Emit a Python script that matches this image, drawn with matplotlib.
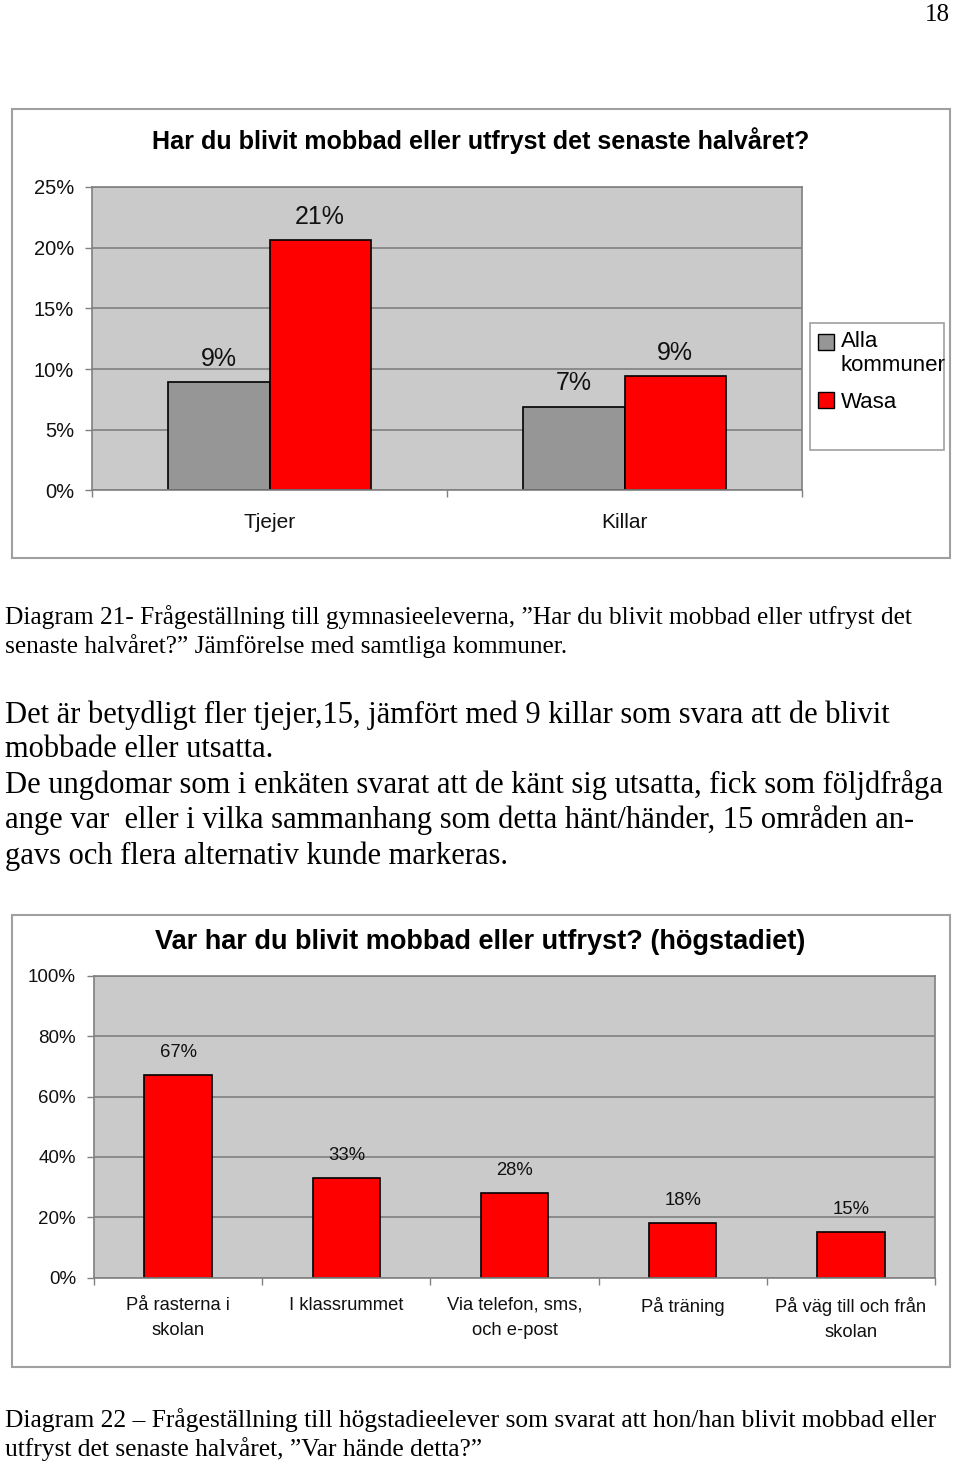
import matplotlib
matplotlib.use('Agg')
import matplotlib.pyplot as plt
from matplotlib.patches import Rectangle
from matplotlib.legend_handler import HandlerBase
from matplotlib.ticker import PercentFormatter, FixedLocator
import numpy as np

# Diagram 21 - gymnasiet, Wasa mot alla kommuner
grupper = ['Tjejer', 'Killar']
serier = ['Alla\nkommuner', 'Wasa']
alla_kommuner = [0.089, 0.069]
wasa = [0.206, 0.094]

# Diagram 22 - var har du blivit mobbad (högstadiet)
platser = ['På rasterna i\nskolan', 'I klassrummet', 'Via telefon, sms,\noch e-post',
           'På träning', 'På väg till och från\nskolan']
andel = [0.67, 0.33, 0.28, 0.18, 0.15]

titel1 = 'Har du blivit mobbad eller utfryst det senaste halvåret?'
titel2 = 'Var har du blivit mobbad eller utfryst? (högstadiet)'

bildtext1 = ['Diagram 21- Frågeställning till gymnasieeleverna, \u201dHar du blivit mobbad eller utfryst det',
             'senaste halvåret?\u201d Jämförelse med samtliga kommuner.']
stycke = ['Det är betydligt fler tjejer,15, jämfört med 9 killar som svara att de blivit',
          'mobbade eller utsatta.',
          'De ungdomar som i enkäten svarat att de känt sig utsatta, fick som följdfråga',
          'ange var  eller i vilka sammanhang som detta hänt/händer, 15 områden an-',
          'gavs och flera alternativ kunde markeras.']
bildtext2 = ['Diagram 22 \u2013 Frågeställning till högstadieelever som svarat att hon/han blivit mobbad eller',
             'utfryst det senaste halvåret, \u201dVar hände detta?\u201d']

W, H = 960, 1464
SANS = 'Liberation Sans'
SERIF = 'Liberation Serif'
GRAA = '#969696'
ROED = '#ff0000'

fig = plt.figure(figsize=(W / 100, H / 100), dpi=100)
renderer = fig.canvas.get_renderer()


def px(x0, y0, x1, y1):
    # pixelruta (uppifrån) -> figurkoordinater
    return [x0 / W, 1 - y1 / H, (x1 - x0) / W, (y1 - y0) / H]


def ram(x0, y0, x1, y1, lw=1.5):
    r = Rectangle((x0 / W, 1 - y1 / H), (x1 - x0) / W, (y1 - y0) / H,
                  transform=fig.transFigure, fill=False, ec='#a0a0a0', lw=lw)
    fig.patches.append(r)


def passa(rader, bredd, family, weight='normal'):
    # fontstorlek så att bredaste raden blir 'bredd' pixlar
    wmax = 0
    for rad in rader:
        t = fig.text(0, 0, rad, fontsize=16, family=family, fontweight=weight)
        wmax = max(wmax, t.get_window_extent(renderer).width)
        t.remove()
    return 16 * bredd / wmax


class Ruta(HandlerBase):
    # liten fyrkant i legenden, kan lyftas upp till första textraden
    def __init__(self, lyft=0):
        super().__init__()
        self.lyft = lyft

    def create_artists(self, legend, orig_handle, xdescent, ydescent, width, height,
                       fontsize, trans):
        s = min(width, height)
        fc = orig_handle.patches[0].get_facecolor()
        r = Rectangle((-xdescent, -ydescent + (height - s) / 2 + self.lyft), s, s,
                      facecolor=fc, edgecolor='black', lw=1, transform=trans)
        return [r]


def stil(ax, tickstorlek):
    ax.set_facecolor('#cacaca')
    for s in ax.spines.values():
        s.set_color('#808080')
        s.set_linewidth(1.2)
    ax.yaxis.grid(True, color='#808080', lw=1.2)
    ax.set_axisbelow(True)
    ax.yaxis.set_major_formatter(PercentFormatter(1.0, decimals=0))
    ax.tick_params(axis='y', length=5, width=1, color='#808080', pad=8,
                   labelsize=tickstorlek, labelcolor='#111111')
    ax.tick_params(axis='x', which='major', length=0, labelcolor='#111111')
    ax.tick_params(axis='x', which='minor', length=5, width=1, color='#808080')
    for t in ax.get_yticklabels() + ax.get_xticklabels():
        t.set_family(SANS)


# ---------- Diagram 21 ----------
ram(12, 109, 950, 558)
ax1 = fig.add_axes(px(92, 187, 802, 490.5))
x = np.arange(len(grupper))
bw = 0.285
b1 = ax1.bar(x - bw / 2, alla_kommuner, bw, color=GRAA, edgecolor='black', lw=1.2)
b2 = ax1.bar(x + bw / 2, wasa, bw, color=ROED, edgecolor='black', lw=1.2)
ax1.set_xlim(-0.5, len(grupper) - 0.5)
ax1.set_ylim(0, 0.25)
ax1.set_yticks(np.arange(0, 0.26, 0.05))
ax1.set_xticks(x)
ax1.set_xticklabels(grupper, fontsize=15, family=SANS)
ax1.xaxis.set_minor_locator(FixedLocator(np.arange(-0.5, len(grupper), 1.0)))
ax1.tick_params(axis='x', which='major', pad=16)
stil(ax1, 14.5)
for bars, vals in ((b1, alla_kommuner), (b2, wasa)):
    for b, v in zip(bars, vals):
        ax1.annotate(f'{round(v * 100):.0f}%', (b.get_x() + b.get_width() / 2, v),
                     xytext=(0, 17), textcoords='offset points', ha='center', va='center',
                     fontsize=18, family=SANS, color='#111111')
fig.text(481 / W, 1 - 141 / H, titel1, ha='center', va='center',
         fontsize=passa([titel1], 655, SANS, 'bold'), fontweight='bold', family=SANS)
# legend
ram(810, 323, 944, 450, lw=1.2)
fig.legend([b1, b2], serier, loc='upper left', bbox_to_anchor=(818 / W, 1 - 331 / H),
           bbox_transform=fig.transFigure, frameon=False, borderaxespad=0, borderpad=0,
           handlelength=0.72, handleheight=0.72, handletextpad=0.3, labelspacing=0.7,
           handler_map={b1: Ruta(lyft=8.8), b2: Ruta()},
           prop={'family': SANS, 'size': 16})

# ---------- Diagram 22 ----------
ram(12, 915, 950, 1367)
ax2 = fig.add_axes(px(94, 976, 935, 1277.5))
x2 = np.arange(len(platser))
b3 = ax2.bar(x2, andel, 0.4, color=ROED, edgecolor='black', lw=1.2)
ax2.set_xlim(-0.5, len(platser) - 0.5)
ax2.set_ylim(0, 1.0)
ax2.set_yticks(np.arange(0, 1.01, 0.2))
ax2.set_xticks(x2)
ax2.set_xticklabels(platser, fontsize=13.2, family=SANS, linespacing=1.6, va='top')
ax2.xaxis.set_minor_locator(FixedLocator(np.arange(-0.5, len(platser), 1.0)))
ax2.tick_params(axis='x', which='major', pad=14)
stil(ax2, 13.5)
for b, v in zip(b3, andel):
    ax2.annotate(f'{round(v * 100):.0f}%', (b.get_x() + b.get_width() / 2, v),
                 xytext=(0, 16.5), textcoords='offset points', ha='center', va='center',
                 fontsize=13.3, family=SANS, color='#111111')
fig.text(480 / W, 1 - 942 / H, titel2, ha='center', va='center',
         fontsize=passa([titel2], 650, SANS, 'bold'), fontweight='bold', family=SANS)


# ---------- löptext ----------
def text_block(rader, ys, bredd, x0=5):
    storlek = passa(rader, bredd, SERIF)
    for rad, y in zip(rader, ys):
        fig.text(x0 / W, 1 - y / H, rad, ha='left', va='center', fontsize=storlek,
                 family=SERIF, color='black')


text_block(bildtext1, [617, 646], 910)
text_block(stycke, [715, 749, 785, 820, 856], 940)
text_block(bildtext2, [1420, 1449], 929)

fig.text(950 / W, 1 - 15 / H, '18', ha='right', va='center', fontsize=18, family=SERIF)

fig.savefig('out.png', dpi=100)
